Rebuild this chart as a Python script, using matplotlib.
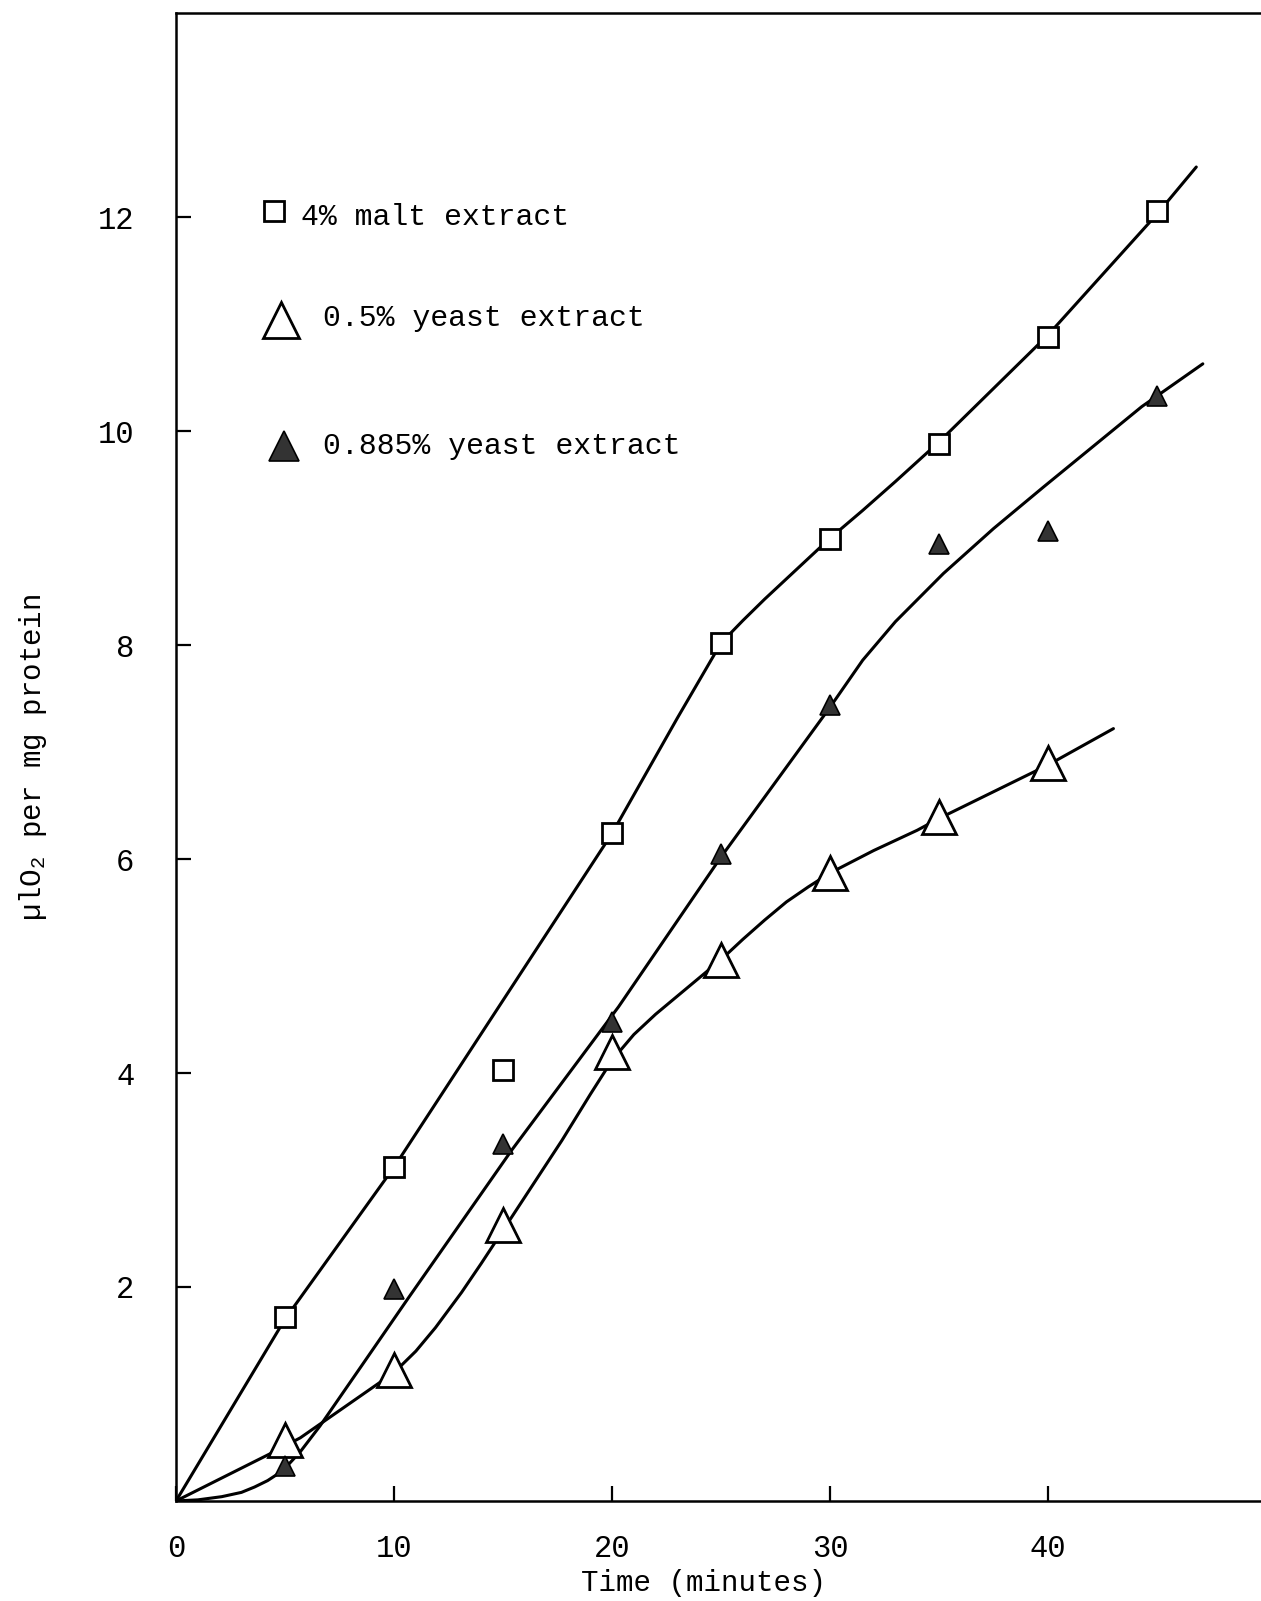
import matplotlib
matplotlib.use("Agg")
import matplotlib.pyplot as plt

# Measured oxygen uptake (µl O2 per mg protein) against time (minutes)
time_malt = [5, 10, 15, 20, 25, 30, 35, 40, 45]
malt_4pct = [1.72, 3.12, 4.03, 6.24, 8.02, 8.99, 9.88, 10.88, 12.06]

time_y05 = [5, 10, 15, 20, 25, 30, 35, 40]
yeast_05pct = [0.57, 1.22, 2.58, 4.20, 5.06, 5.87, 6.39, 6.90]

time_y0885 = [5, 10, 15, 20, 25, 30, 35, 40, 45]
yeast_0885pct = [0.33, 1.98, 3.34, 4.48, 6.05, 7.44, 8.95, 9.07, 10.33]

# Hand-drawn fitted curves through each series
malt_fit_t = [0, 5, 10, 15, 20, 21.5, 23, 24.2, 25, 26, 27, 28, 29, 30,
              31.5, 33, 35, 40, 45, 46.8]
malt_fit_v = [0, 1.70, 3.12, 4.68, 6.24, 6.78, 7.32, 7.74, 8.02, 8.23, 8.43,
              8.62, 8.81, 9.00, 9.26, 9.53, 9.90, 10.90, 12.03, 12.47]

y05_fit_t = [0, 4.5, 5.7, 10.0, 11.0, 11.9, 13.1, 14.0, 15.0, 17.7, 19.0, 20.0,
             21.0, 22.0, 23.0, 24.0, 25.0, 26.0, 27.0, 28.0, 29.0, 30.0,
             32.0, 34.0, 35.0, 40.0, 43.0]
y05_fit_v = [0, 0.46, 0.59, 1.20, 1.40, 1.62, 1.95, 2.22, 2.53, 3.37, 3.80, 4.12,
             4.36, 4.55, 4.72, 4.89, 5.06, 5.25, 5.43, 5.60, 5.74, 5.87,
             6.08, 6.27, 6.38, 6.88, 7.22]

y0885_fit_t = [0, 1.0, 2.1, 3.0, 3.6, 4.2, 4.8, 5.2, 5.7, 6.6, 8.5, 10.7, 15.4,
               20.3, 25.0, 30.0, 31.5, 33.0, 35.2, 37.5, 39.8, 44.3, 47.1]
y0885_fit_v = [0, 0.01, 0.04, 0.08, 0.13, 0.19, 0.27, 0.35, 0.46, 0.70, 1.26,
               1.91, 3.28, 4.62, 6.02, 7.42, 7.86, 8.22, 8.67, 9.09, 9.48,
               10.23, 10.63]

x_ticks = [0, 10, 20, 30, 40]
y_ticks = [2, 4, 6, 8, 10, 12]

legend_labels = ["4% malt extract", "0.5% yeast extract", "0.885% yeast extract"]

FONT = ["Liberation Mono", "DejaVu Sans Mono"]
plt.rcParams["font.family"] = FONT
plt.rcParams["mathtext.fontset"] = "custom"
plt.rcParams["mathtext.rm"] = "Liberation Mono"
plt.rcParams["mathtext.it"] = "Liberation Mono"
plt.rcParams["mathtext.default"] = "rm"

fig = plt.figure(figsize=(12.61, 16.01), dpi=100)
ax = fig.add_axes([0.1396, 0.0625, 0.8644, 0.9294])
ax.set_xlim(0, 50)
ax.set_ylim(0, 13.91)

LW = 2.2
for ft, fv in [(malt_fit_t, malt_fit_v), (y05_fit_t, y05_fit_v),
               (y0885_fit_t, y0885_fit_v)]:
    ax.plot(ft, fv, color="black", lw=LW, solid_joinstyle="round",
            solid_capstyle="round", zorder=2)

ax.plot(time_malt, malt_4pct, linestyle="none", marker="s", ms=15,
        mfc="white", mec="black", mew=2.0, zorder=3)
ax.plot(time_y05, yeast_05pct, linestyle="none", marker="^", ms=24,
        mfc="white", mec="black", mew=2.0, zorder=3)
ax.plot(time_y0885, yeast_0885pct, linestyle="none", marker="^", ms=15,
        mfc="#333333", mec="black", mew=1.2, zorder=4)

# Legend entries
leg_marker_x = [0.0899, 0.0963, 0.0990]
leg_marker_y = [0.867, 0.7937, 0.709]
leg_text_x = [0.1147, 0.1349, 0.1349]
leg_text_y = [0.863, 0.795, 0.709]
ax.plot(leg_marker_x[0], leg_marker_y[0], marker="s", ms=15, mfc="white",
        mec="black", mew=2.0, transform=ax.transAxes, clip_on=False)
ax.plot(leg_marker_x[1], leg_marker_y[1], marker="^", ms=26, mfc="white",
        mec="black", mew=2.0, transform=ax.transAxes, clip_on=False)
ax.plot(leg_marker_x[2], leg_marker_y[2], marker="^", ms=22, mfc="#333333",
        mec="black", mew=1.2, transform=ax.transAxes, clip_on=False)
for tx, ty, lab in zip(leg_text_x, leg_text_y, legend_labels):
    ax.text(tx, ty, lab, transform=ax.transAxes, fontsize=21.5,
            ha="left", va="center", color="black")

# Axes frame: left, top and bottom lines only
for side in ["left", "top", "bottom"]:
    ax.spines[side].set_linewidth(1.8)
ax.spines["right"].set_visible(False)

ax.set_xticks(x_ticks)
ax.set_xticklabels([str(t) for t in x_ticks])
ax.set_yticks(y_ticks)
ax.set_yticklabels([str(t) for t in y_ticks])
ax.tick_params(axis="both", direction="in", length=11, width=1.6, labelsize=22)
ax.tick_params(axis="x", pad=24, top=False)
ax.tick_params(axis="y", pad=30, right=False)

ax.set_xlabel("Time (minutes)", fontsize=21)
ax.xaxis.set_label_coords(0.484, -0.055)
ax.xaxis.label.set_verticalalignment("center")
ax.set_ylabel(r"µlO$_2$ per mg protein", fontsize=21)
ax.yaxis.set_label_coords(-0.131, 0.5)
ax.yaxis.label.set_verticalalignment("center")

fig.savefig("out.png", dpi=100, facecolor="white")
